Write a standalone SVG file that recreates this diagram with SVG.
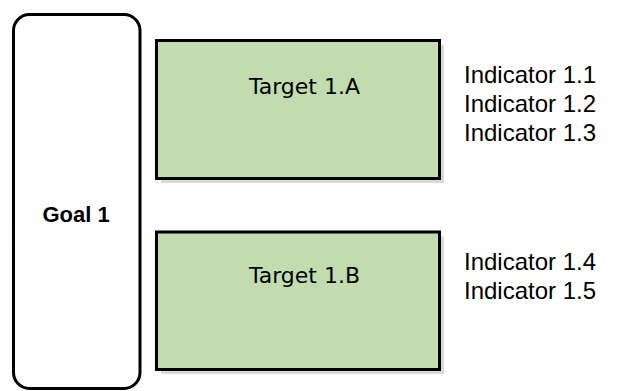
<svg xmlns="http://www.w3.org/2000/svg" width="622" height="391" viewBox="0 0 622 391">
<style>
.goal{fill:#fff;stroke:#000;stroke-width:3}
.tgt{fill:#c2dcb0;stroke:#000;stroke-width:3}
.shadow{fill:#d9d9d9}
.tt{font-family:"DejaVu Sans",Verdana,sans-serif;font-size:22px;fill:#000;text-anchor:middle}
.gt{font-family:"Liberation Sans",Arial,sans-serif;font-size:22px;font-weight:bold;fill:#000;text-anchor:middle}
.it{font-family:"Liberation Sans",Arial,sans-serif;font-size:24px;fill:#000}
</style>
<g id="goal1">
<rect class="goal" x="13.5" y="14.5" width="126.5" height="374" rx="16" ry="16"/>
<text class="gt" x="76" y="222">Goal 1</text>
</g>
<g id="target1a">
<rect class="shadow" x="161" y="45" width="283" height="138"/>
<rect class="tgt" x="156.5" y="40.5" width="283" height="138"/>
<text class="tt" x="304.5" y="94">Target 1.A</text>
</g>
<g id="target1b">
<rect class="shadow" x="161" y="236.5" width="283" height="137.5"/>
<rect class="tgt" x="156.5" y="232" width="283" height="137.5"/>
<text class="tt" x="304.5" y="283">Target 1.B</text>
</g>
<g id="indicators-a">
<text class="it" x="464" y="83">Indicator 1.1</text>
<text class="it" x="464" y="112">Indicator 1.2</text>
<text class="it" x="464" y="141">Indicator 1.3</text>
</g>
<g id="indicators-b">
<text class="it" x="464" y="270">Indicator 1.4</text>
<text class="it" x="464" y="299">Indicator 1.5</text>
</g>
<g id="connectors"/>
</svg>
